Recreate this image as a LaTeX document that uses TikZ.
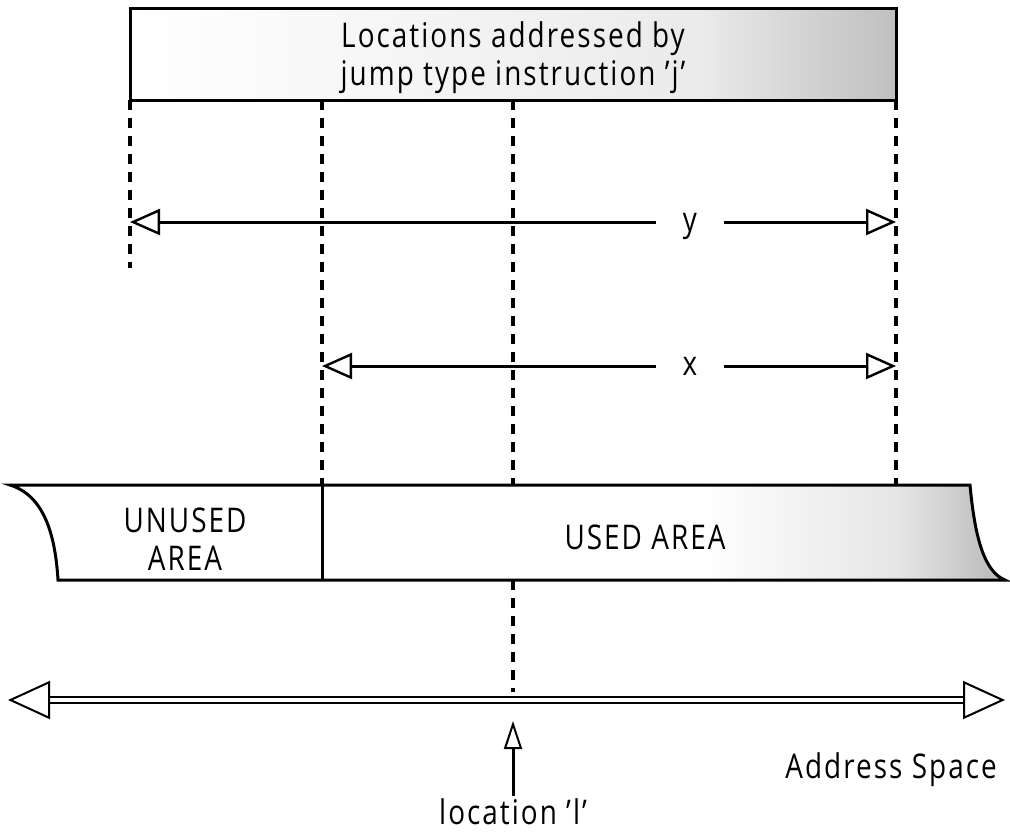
\documentclass[tikz,border=0pt]{standalone}
\usepackage{fontspec}
\setmainfont[FakeStretch=0.82,LetterSpace=6]{Open Sans}
\usetikzlibrary{arrows.meta}
\tikzset{
  lbl/.style={font=\fontsize{17}{19}\selectfont, align=center, inner sep=1pt},
  vdash/.style={line width=1.8pt, dash pattern=on 5pt off 4pt},
  spanarrow/.style={line width=1.5pt, {Triangle[open,length=15pt,width=13pt,line width=1.2pt]}-{Triangle[open,length=15pt,width=13pt,line width=1.2pt]}},
  gapnode/.style={lbl, fill=white, minimum width=34pt},
  addrarrow/.style={double, line width=1pt, double distance=2pt, {Triangle[open,length=21pt,width=19pt,line width=1pt]}-{Triangle[open,length=21pt,width=19pt,line width=1pt]}},
  ptrarrow/.style={line width=1.5pt, -{Triangle[open,length=14pt,width=9pt,line width=1pt]}}
}
\begin{document}
\begin{tikzpicture}[x=0.5pt,y=0.5pt,yscale=-1,xscale=1]
\useasboundingbox (0,0) rectangle (1010,836);

%Top box: locations addressed by j
\shade [left color=white, right color=black!8] (130,8) rectangle (700,100);
\shade [left color=black!8, right color=black!25] (700,8) rectangle (896,100);
\draw [line width=1.5pt] (130,8) rectangle (896,100);
\node [lbl] (jtext) at (513,58) {Locations addressed by\\jump type instruction 'j'};

%Coordinates
\coordinate (ja) at (130,100);
\coordinate (jb) at (322,100);
\coordinate (jc) at (513,100);
\coordinate (jd) at (896,100);
\coordinate (ea) at (130,268);
\coordinate (eb) at (322,485);
\coordinate (ec) at (513,485);
\coordinate (ed) at (896,485);
\coordinate (fc) at (513,580);
\coordinate (gc) at (513,692);

%Dashed drop lines
\draw [vdash] (ja) -- (ea);
\draw [vdash] (jb) -- (eb);
\draw [vdash] (jc) -- (ec);
\draw [vdash] (jd) -- (ed);
\draw [vdash] (fc) -- (gc);

%Span y
\coordinate (ya) at (130,222);
\coordinate (yb) at (896,222);
\draw [spanarrow] (ya) -- (yb);
\node [gapnode] (ylbl) at (690,226) {y};

%Span x
\coordinate (xa) at (322,366);
\coordinate (xb) at (896,366);
\draw [spanarrow] (xa) -- (xb);
\node [gapnode] (xlbl) at (690,366) {x};

%Memory strip
\shade [left color=white, right color=black!10] (700,485) rectangle (900,580);
\shade [left color=black!10, right color=black!28] (900,485) -- (970,485) .. controls (975,540) and (985,572) .. (1005,580) -- (900,580) -- cycle;
\draw [line width=1.5pt] (10,485) -- (970,485) .. controls (975,540) and (985,572) .. (1005,580) -- (58,580) .. controls (55,530) and (42,495) .. (10,485) -- cycle;
\draw [line width=1.5pt] (322,485) -- (322,580);
\node [lbl] (unused) at (185,539) {UNUSED\\AREA};
\node [lbl] (used) at (645,537) {USED AREA};

%Address space
\coordinate (asl) at (8,700);
\coordinate (asr) at (1005,700);
\draw [addrarrow] (asl) -- (asr);
\node [lbl, anchor=west] (aspace) at (783,770) {Address Space};

%Location l
\node [lbl, anchor=north] (locl) at (513,796) {location 'l'};
\coordinate (lt) at (513,721);
\draw [ptrarrow] (locl.north) -- (lt);

\end{tikzpicture}
\end{document}
